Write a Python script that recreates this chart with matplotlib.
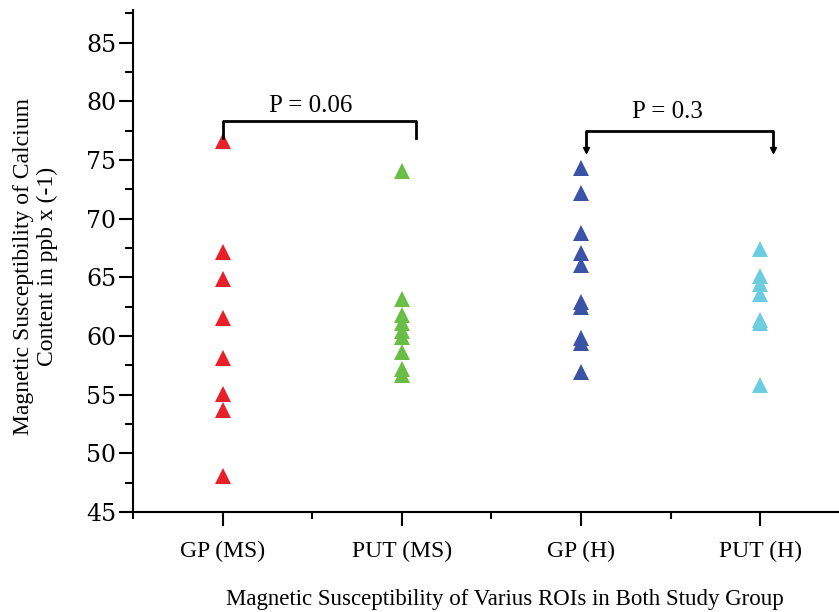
import matplotlib.pyplot as plt
import numpy as np
from matplotlib.ticker import MultipleLocator

plt.rcParams['font.family'] = ['Liberation Serif', 'DejaVu Serif']

groups = ["GP (MS)", "PUT (MS)", "GP (H)", "PUT (H)"]
colors = ["#E8202A", "#6BBE45", "#3A53A4", "#6DCDE0"]

gp_ms = [76.6, 67.2, 64.9, 61.5, 58.1, 55.1, 53.7, 48.1]
put_ms = [74.1, 63.2, 61.8, 61.1, 60.4, 59.9, 58.6, 57.2, 56.7]
gp_h = [74.3, 72.2, 68.8, 67.1, 66.1, 62.9, 62.5, 59.8, 59.4, 56.9]
put_h = [67.4, 65.1, 64.4, 63.6, 61.4, 61.1, 55.8]
series = [gp_ms, put_ms, gp_h, put_h]

p_labels = ["P = 0.06", "P = 0.3"]

fig = plt.figure(figsize=(8.39, 6.12), dpi=100)
ax = fig.add_axes([0.1585, 0.1634, 0.8415, 0.8203])

for i, vals in enumerate(series):
    ax.plot(np.full(len(vals), i + 1), vals, ls='none', marker='^',
            ms=11, color=colors[i], markeredgewidth=0)

ax.set_xlim(0.5, 4.44)
ax.set_ylim(45, 87.8)

ax.set_xticks(range(1, 5))
ax.set_xticklabels(groups, fontsize=17)
ax.xaxis.set_minor_locator(MultipleLocator(1, offset=0.5))
ax.yaxis.set_major_locator(MultipleLocator(5))
ax.yaxis.set_minor_locator(MultipleLocator(2.5))
for lab in ax.get_yticklabels():
    lab.set_family('DejaVu Serif')
ax.tick_params(axis='y', which='major', labelsize=17, length=10, width=1.5, pad=2)
ax.tick_params(axis='y', which='minor', length=6, width=1.5)
ax.tick_params(axis='x', which='major', length=10, width=1.5, pad=11)
ax.tick_params(axis='x', which='minor', length=5, width=1.5)

ax.spines['top'].set_visible(False)
ax.spines['right'].set_visible(False)
ax.spines['left'].set_linewidth(1.5)
ax.spines['bottom'].set_linewidth(1.5)

ax.set_ylabel("Magnetic Susceptibility of Calcium\nContent in ppb x (-1)",
              fontsize=17)
ax.yaxis.set_label_coords(-0.106, 0.49)
ax.set_xlabel("Magnetic Susceptibility of Varius ROIs in Both Study Group",
              fontsize=16.5, labelpad=19, x=0.527)

# significance brackets
ax.plot([1, 1, 2.08, 2.08], [76.9, 78.3, 78.3, 76.9], color='black', lw=2)
ax.text(1.49, 79.1, p_labels[0], fontsize=18, ha='center', va='baseline')
ax.plot([3.03, 3.03, 4.07, 4.07], [75.9, 77.5, 77.5, 75.9], color='black', lw=2)
ax.plot([3.03, 4.07], [75.9, 75.9], ls='none', marker='v', ms=4, color='black')
ax.text(3.48, 78.6, p_labels[1], fontsize=18, ha='center', va='baseline')

fig.savefig("out.png", dpi=100)
